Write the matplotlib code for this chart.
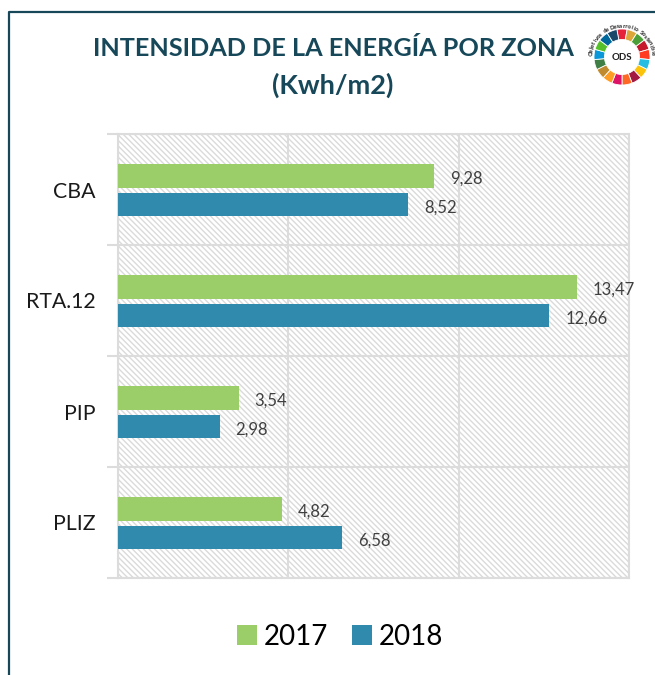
import numpy as np
import matplotlib
matplotlib.use("Agg")
import matplotlib.pyplot as plt
from matplotlib.lines import Line2D

plt.rcParams["font.family"] = ["Lato", "DejaVu Sans"]
plt.rcParams["hatch.color"] = "#dadada"
plt.rcParams["hatch.linewidth"] = 1.0

zonas = ["CBA", "RTA.12", "PIP", "PLIZ"]
valores_2017 = [9.28, 13.47, 3.54, 4.82]
valores_2018 = [8.52, 12.66, 2.98, 6.58]
etiquetas_2017 = ["9,28", "13,47", "3,54", "4,82"]
etiquetas_2018 = ["8,52", "12,66", "2,98", "6,58"]
colores_ods = ["#e5243b", "#dda63a", "#4c9f38", "#c5192d", "#ff3a21", "#26bde2",
               "#fcc30b", "#a21942", "#fd6925", "#dd1367", "#fd9d24", "#bf8b2e",
               "#3f7e44", "#0a97d9", "#56c02b", "#00689d", "#19486a"]

W, H = 655, 675
fig = plt.figure(figsize=(W / 100, H / 100), dpi=100)

def caja(x0, y0, x1, y1):
    return [x0 / W, 1 - y1 / H, (x1 - x0) / W, (y1 - y0) / H]

ax = fig.add_axes(caja(118, 134, 629, 578))
ax.set_xlim(0, 15)
ax.set_ylim(3.5, -0.5)
ax.set_facecolor("white")
ax.patch.set_hatch("\\\\\\\\\\\\")
ax.patch.set_edgecolor("#dadada")
ax.patch.set_linewidth(0)

y = np.arange(len(zonas))
alto = 0.215
b1 = ax.barh(y - 0.122, valores_2017, height=alto, color="#9bcd69", label="2017", zorder=3)
b2 = ax.barh(y + 0.135, valores_2018, height=alto, color="#2f8aad", label="2018", zorder=3)
for barras, etiquetas in [(b1, etiquetas_2017), (b2, etiquetas_2018)]:
    textos = ax.bar_label(barras, labels=etiquetas, padding=11.5, fontsize=12, color="#404040")
    for t in textos:
        t.xyann = (11.5, -2)

ax.set_xticks([0, 5, 10, 15])
ax.set_xticklabels([])
ax.set_yticks(y)
ax.set_yticklabels(zonas, fontsize=15.3, color="#1a1a1a")
ax.tick_params(axis="y", which="major", length=0, pad=16)
ax.tick_params(axis="x", length=0)
ax.set_yticks([-0.5, 0.5, 1.5, 2.5, 3.5], minor=True)
ax.tick_params(axis="y", which="minor", length=8, width=1.5, color="#dcdcdc")
ax.grid(axis="x", color="#dcdcdc", linewidth=1.5, zorder=1)
ax.grid(axis="y", which="minor", color="#dcdcdc", linewidth=1.5, zorder=1)
ax.set_axisbelow(True)
for s in ax.spines.values():
    s.set_color("#dcdcdc")
    s.set_linewidth(1.5)

fig.legend(handles=[b1, b2], loc="center", bbox_to_anchor=(340 / W, 1 - 637 / H), ncol=2,
           frameon=False, fontsize=20, handlelength=0.72, handleheight=0.72,
           handletextpad=0.25, columnspacing=0.85)

titulo = "#17485a"
fig.text(333 / W, 1 - 48 / H, "INTENSIDAD DE LA ENERGÍA POR ZONA", ha="center", va="center",
         fontsize=18.2, fontweight="bold", color=titulo)
fig.text(333 / W, 1 - 85 / H, "(Kwh/m2)", ha="center", va="center",
         fontsize=19.5, fontweight="bold", color=titulo)

# marco: linea izquierda y linea superior
fig.add_artist(Line2D([8.5 / W, 8.5 / W, 1], [0, 1 - 11.5 / H, 1 - 11.5 / H], color="#17485a", linewidth=1.6))

# logo ODS, centrado en (622, 57)
logo = fig.add_axes(caja(587, 22, 657, 92))
logo.pie([1] * 17, colors=colores_ods, radius=0.8, startangle=90 + 360 / 34,
         counterclock=False, wedgeprops=dict(width=0.3, edgecolor="white", linewidth=0.6))
logo.set_xlim(-1, 1)
logo.set_ylim(-1, 1)
logo.axis("off")
logo.text(0, -0.02, "ODS", ha="center", va="center", fontsize=7, fontweight="bold", color="#222222")
frase = "Objetivos de Desarrollo Sostenible"
angulos = np.linspace(174, 6, len(frase))
for letra, ang in zip(frase, angulos):
    a = np.deg2rad(ang)
    logo.text(0.88 * np.cos(a), 0.88 * np.sin(a), letra, ha="center", va="center", fontsize=4.4,
              fontweight="bold", rotation=ang - 90, color="#222222")

fig.savefig("out.png", dpi=100)
